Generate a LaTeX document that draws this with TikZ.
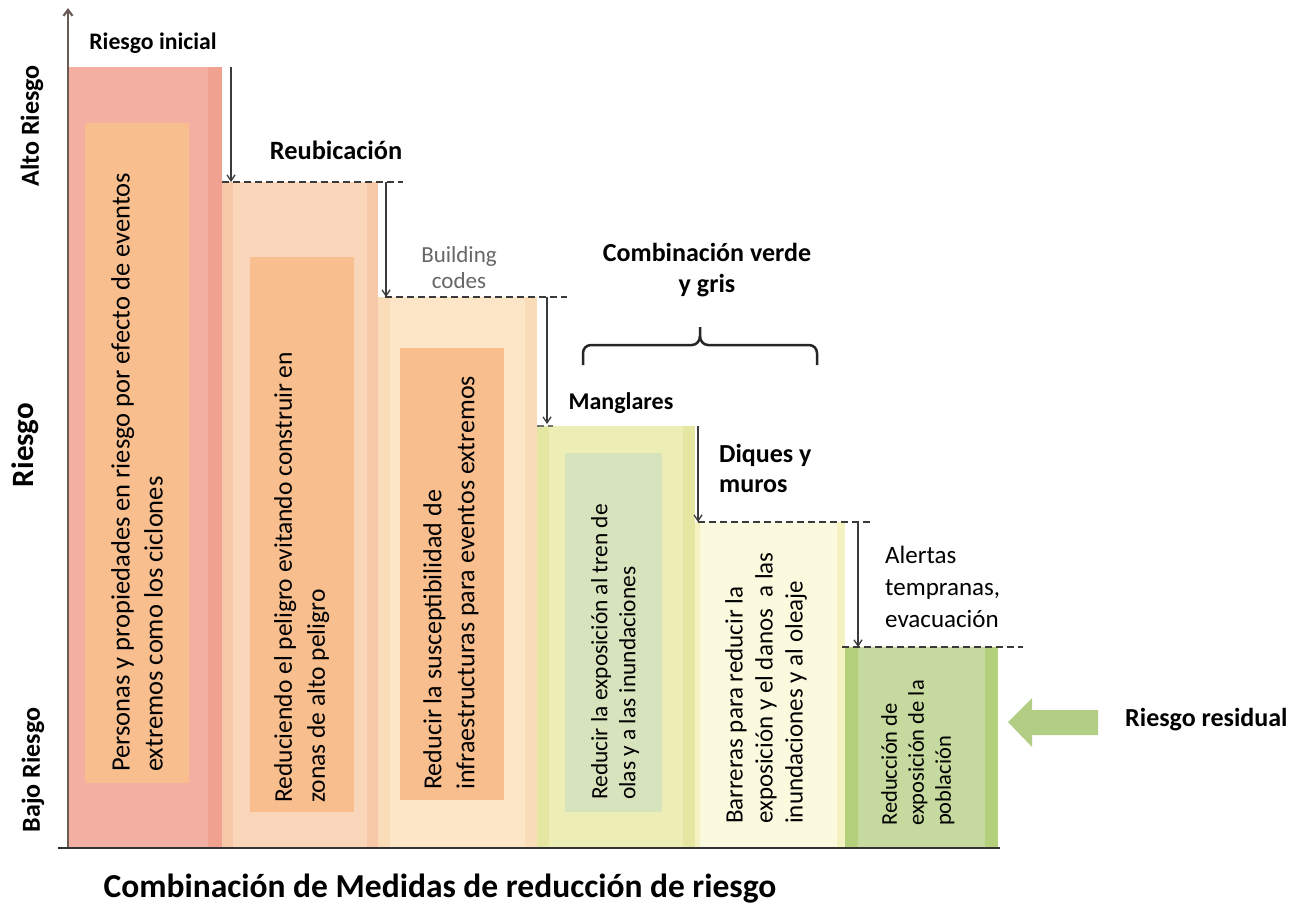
\documentclass[tikz,border=0pt]{standalone}
\usepackage{fontspec}
\setmainfont{Carlito}
\usetikzlibrary{arrows.meta}
\definecolor{cA}{HTML}{F4AFA3}\definecolor{cAe}{HTML}{F1A190}
\definecolor{cB}{HTML}{F9D5B9}\definecolor{cBe}{HTML}{F6C8A7}
\definecolor{cC}{HTML}{FDE6C8}\definecolor{cCe}{HTML}{FBDCB9}
\definecolor{cD}{HTML}{EDEEB6}\definecolor{cDe}{HTML}{E5E6A2}
\definecolor{cE}{HTML}{FBFADF}\definecolor{cEe}{HTML}{F4F2C0}
\definecolor{cF}{HTML}{C6D99E}\definecolor{cFe}{HTML}{B5D07A}
\definecolor{boxO}{HTML}{F8BE8E}
\definecolor{boxG}{HTML}{D7E3BC}
\definecolor{arrG}{HTML}{B2CE84}
\definecolor{axisC}{HTML}{6B5B55}
\definecolor{lineC}{HTML}{3A3A3A}
\newcommand\fsz[2]{\fontsize{#1}{#2}\selectfont}
\begin{document}
\begin{tikzpicture}[x=1pt,y=-1pt,
  vtext/.style={rotate=90,anchor=north west,align=left,inner sep=0pt,text=black},
  lbl/.style={inner sep=0pt,text=black},
  dropline/.style={draw=lineC,line width=1.3pt,-{Straight Barb[length=6pt,width=8pt]}},
  levelline/.style={draw=lineC,line width=1.6pt,dash pattern=on 7pt off 4pt},
  bracepath/.style={draw=black!85,line width=2.5pt}
]
\useasboundingbox (0,0) rectangle (1295,908);
\fill[white] (0,0) rectangle (1295,908);

% columns
\fill[cAe] (68,67) rectangle (222,847);
\fill[cA] (68,67) rectangle (208,847);
\fill[cBe] (222,182) rectangle (378,847);
\fill[cB] (233,182) rectangle (367,847);
\fill[cCe] (378,297) rectangle (537,847);
\fill[cC] (390,297) rectangle (525,847);
\fill[cDe] (537,426) rectangle (695,847);
\fill[cD] (549,426) rectangle (683,847);
\fill[cEe] (695,522) rectangle (845,847);
\fill[cE] (700,522) rectangle (837,847);
\fill[cFe] (845,647) rectangle (998,847);
\fill[cF] (858,647) rectangle (985,847);

% inner boxes
\fill[boxO] (85,123) rectangle (189,783);
\fill[boxO] (250,257) rectangle (354,812);
\fill[boxO] (400,348) rectangle (504,800);
\fill[boxG] (565,453) rectangle (662,812);

% axes
\coordinate (yb) at (68,848);
\coordinate (yt) at (68,8);
\coordinate (xl) at (58,848);
\coordinate (xr) at (1000,848);
\draw[draw=axisC,line width=2.2pt,-{Straight Barb[length=6pt,width=9pt]}] (yb) -- (yt);
\draw[draw=black!80,line width=2.5pt] (xl) -- (xr);

% level lines
\coordinate (l1a) at (222,182); \coordinate (l1b) at (403,182);
\coordinate (l2a) at (385,297); \coordinate (l2b) at (567,297);
\coordinate (l3a) at (537,426); \coordinate (l3b) at (553,426);
\coordinate (l4a) at (698,522); \coordinate (l4b) at (873,522);
\coordinate (l5a) at (842,647); \coordinate (l5b) at (1023,647);
\draw[levelline] (l1a) -- (l1b);
\draw[levelline] (l2a) -- (l2b);
\draw[levelline,draw=black!55] (l3a) -- (l3b);
\draw[levelline] (l4a) -- (l4b);
\draw[levelline] (l5a) -- (l5b);

% drop arrows
\coordinate (d1s) at (231,67);  \coordinate (d1e) at (231,182);
\coordinate (d2s) at (386,182); \coordinate (d2e) at (386,297);
\coordinate (d3s) at (547,297); \coordinate (d3e) at (547,424);
\coordinate (d4s) at (698,426); \coordinate (d4e) at (698,522);
\coordinate (d5s) at (858,522); \coordinate (d5e) at (858,647);
\draw[dropline] (d1s) -- (d1e);
\draw[dropline] (d2s) -- (d2e);
\draw[dropline] (d3s) -- (d3e);
\draw[dropline] (d4s) -- (d4e);
\draw[dropline] (d5s) -- (d5e);

% brace
\draw[bracepath] (583,365) -- (583,353) to[out=90,in=180] (591,345) -- (692,345)
  to[out=0,in=-90] (700,336) -- (700,327);
\draw[bracepath] (700,336) to[out=-90,in=180] (708,345) -- (809,345)
  to[out=0,in=90] (817,353) -- (817,365);

% green arrow
\fill[arrG] (1008,722) -- (1032,698) -- (1032,710) -- (1098,710) -- (1098,735)
  -- (1032,735) -- (1032,747) -- cycle;

% rotated texts in columns
\node[vtext,font=\fsz{26.5}{33}] (t1) at (111,772)
  {Personas y propiedades en riesgo por efecto de eventos\\extremos como los ciclones};
\node[vtext,font=\fsz{25.5}{33}] (t2) at (274,803)
  {Reduciendo el peligro evitando construir en\\zonas de alto peligro};
\node[vtext,font=\fsz{26}{33}] (t3) at (423,790)
  {Reducir la susceptibilidad de\\infraestructuras para eventos extremos};
\node[vtext,font=\fsz{23.4}{28}] (t4) at (591,800)
  {Reducir la exposición al tren de\\olas y a las inundaciones};
\node[vtext,font=\fsz{25}{30}] (t5) at (725,824)
  {Barreras para reducir la\\exposición y el danos~ a las\\inundaciones y al oleaje};
\node[vtext,font=\fsz{22.5}{27}] (t6) at (881,826)
  {Reducción de\\exposición de la\\población};

% labels
\node[lbl,font=\bfseries\fsz{23.7}{28}] (ri) at (153,43) {Riesgo inicial};
\node[lbl,font=\bfseries\fsz{26.4}{30}] (reu) at (336,150) {Reubicación};
\node[lbl,font=\fsz{23}{26},text=black!60,align=center] (bc) at (459,268) {Building\\codes};
\node[lbl,font=\bfseries\fsz{26}{31},align=center] (cvg) at (707,270) {Combinación verde\\y gris};
\node[lbl,font=\bfseries\fsz{24}{28}] (man) at (621,403) {Manglares};
\node[lbl,font=\bfseries\fsz{26}{30},align=left,anchor=west] (dm) at (719,468) {Diques y\\muros};
\node[lbl,font=\fsz{25}{32},align=left,anchor=west] (al) at (885,587) {Alertas\\tempranas,\\evacuación};
\node[lbl,font=\bfseries\fsz{26}{30},anchor=west] (rr) at (1125,720) {Riesgo residual};

% axis labels
\node[lbl,rotate=90,font=\bfseries\fsz{26}{30}] (alto) at (32,126) {Alto Riesgo};
\node[lbl,rotate=90,font=\bfseries\fsz{31}{34}] (rg) at (25,445) {Riesgo};
\node[lbl,rotate=90,font=\bfseries\fsz{26}{30}] (bajo) at (33,770) {Bajo Riesgo};
\node[lbl,font=\bfseries\fsz{33.5}{38}] (title) at (440,889) {Combinación de Medidas de reducción de riesgo};
\end{tikzpicture}
\end{document}
